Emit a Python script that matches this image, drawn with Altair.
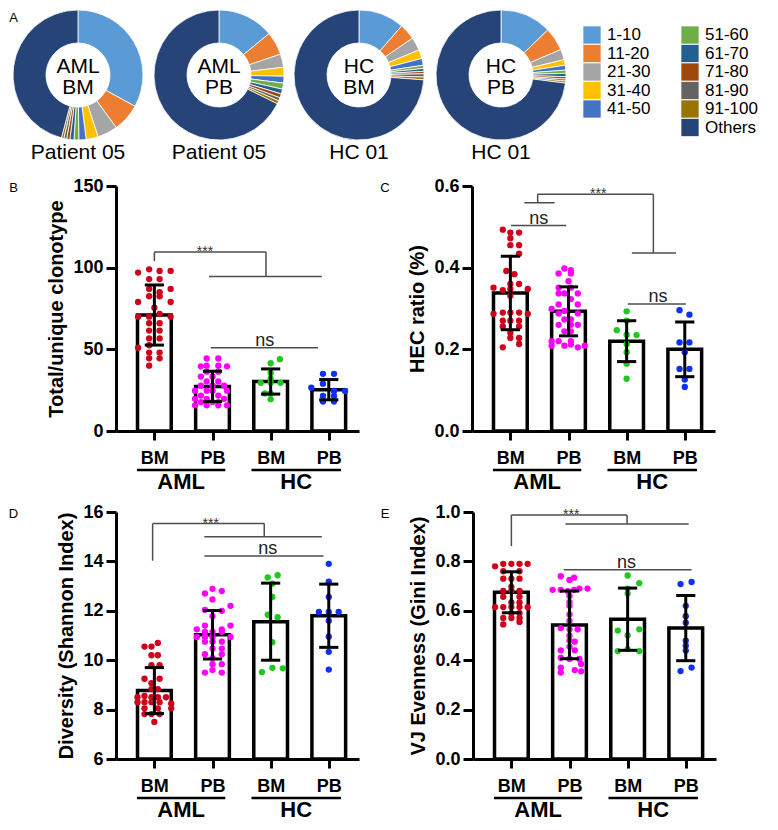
import json
import altair as alt
import pandas as pd

FONT = "Liberation Sans"

# ---------------- Panel A: share of clonotype ranks (%) ----------------
rank_bins = ["1-10", "11-20", "21-30", "31-40", "41-50",
             "51-60", "61-70", "71-80", "81-90", "91-100", "Others"]
bin_colors = ["#5B9BD5", "#ED7D31", "#A5A5A5", "#FFC000", "#4472C4",
              "#70AD47", "#255E91", "#9E480E", "#636363", "#997300", "#264478"]
share_aml_bm = [33.0, 7.0, 5.0, 3.0, 1.8, 1.2, 1.0, 0.8, 0.7, 0.6, 45.9]
share_aml_pb = [14.0, 5.8, 3.3, 2.2, 1.7, 1.5, 1.2, 1.0, 0.8, 0.8, 67.7]
share_hc_bm = [11.4, 4.0, 3.3, 2.2, 1.7, 0.8, 0.7, 0.6, 0.8, 0.7, 73.8]
share_hc_pb = [12.8, 5.8, 2.6, 1.4, 1.2, 0.8, 0.8, 0.6, 0.5, 0.5, 73.0]
donut_centers = ["AML\nBM", "AML\nPB", "HC\nBM", "HC\nPB"]
donut_captions = ["Patient 05", "Patient 05", "HC 01", "HC 01"]
legend_col = [0, 0, 0, 0, 0, 1, 1, 1, 1, 1, 1]
legend_row = [0, 1, 2, 3, 4, 0, 1, 2, 3, 4, 5]

# ---------------- common categories ----------------
cats = ["BM", "PB", "BM", "PB"]
positions = [1, 2, 3, 4]
group_names = ["AML", "HC"]
group_x1 = [0.70, 2.67]
group_x2 = [2.22, 4.21]
dot_colors = ["#d0021b", "#ff00ff", "#1ec81e", "#0f2fff"]

# ---------------- Panel B: Total/unique clonotype ----------------
b_mean = [71.0, 27.3, 30.3, 25.3]
b_sd = [18.4, 9.3, 7.7, 6.2]
b_vals = [
    [97, 99, 98, 98, 93, 93, 87, 87, 85, 82.5, 82.5, 79, 79, 75.5, 71.7, 70, 70, 70,
     66, 66, 61.5, 61.5, 56.7, 56.7, 52.5, 51, 48, 48, 44.5, 44.5, 40],
    [44.4, 44.4, 39.6, 40, 40, 39.6, 36.3, 36.3, 33.3, 33.3, 30.3, 30.3, 27.7, 27.7, 27.7,
     24.7, 24.7, 24.7, 24.7, 21.7, 21.7, 19.7, 19.7, 19.7, 17.7, 17.7, 17.7, 15.7, 15.7, 15.7, 15.7],
    [44, 41.5, 35.5, 32, 29.5, 29.5, 29.5, 23, 23, 19.5],
    [35, 35, 29, 26.5, 24.5, 24.5, 21.5, 21.5, 18, 18],
]
b_offs = [
    [-0.28, -0.09, 0.09, 0.28, -0.09, 0.09, 0.28, -0.09, 0.09, -0.09, 0.09, -0.28, 0.28, 0, 0.09,
     -0.28, -0.09, 0.28, -0.09, 0.09, -0.09, 0.09, -0.09, 0.09, -0.09, -0.28, -0.09, 0.09, -0.09, 0.09, -0.09],
    [-0.1, 0.1, -0.2, -0.1, 0.1, 0.25, -0.1, 0.1, -0.2, 0, -0.1, 0.1, -0.2, 0, 0.2,
     -0.3, -0.1, 0, 0.25, -0.2, 0.1, -0.3, -0.1, 0.2, -0.2, 0, 0.1, -0.3, -0.1, 0.1, 0.25],
    [0.16, 0, 0, 0, -0.17, 0, 0.17, -0.1, 0, 0],
    [-0.1, 0.09, -0.1, -0.3, 0.09, 0.28, -0.1, 0.09, -0.1, 0.09],
]
b_seg_x1 = [1.0, 1.0, 2.92, 1.94, 1.97]
b_seg_y1 = [104, 109.6, 109.6, 94.6, 51]
b_seg_x2 = [1.0, 2.92, 2.92, 3.88, 3.815]
b_seg_y2 = [109.6, 109.6, 94.6, 94.6, 51]
b_ann_text = ["***", "ns"]
b_ann_x = [1.87, 2.9]
b_ann_y = [109.6, 51]

# ---------------- Panel C: HEC ratio (%) ----------------
c_mean = [0.338, 0.293, 0.220, 0.200]
c_sd = [0.090, 0.060, 0.050, 0.067]
c_vals = [
    [0.493, 0.486, 0.486, 0.472, 0.455, 0.455, 0.434, 0.392, 0.384, 0.36, 0.36, 0.351, 0.345,
     0.348, 0.348, 0.331, 0.287, 0.29, 0.29, 0.29, 0.287, 0.27, 0.27, 0.27, 0.256, 0.256, 0.24,
     0.228, 0.228, 0.213, 0.205],
    [0.398, 0.394, 0.386, 0.386, 0.367, 0.351, 0.351, 0.337, 0.337, 0.337, 0.323, 0.31, 0.31,
     0.299, 0.294, 0.288, 0.288, 0.273, 0.273, 0.26, 0.26, 0.26, 0.244, 0.244, 0.22, 0.22, 0.22,
     0.209, 0.209, 0.205, 0.209, 0.212],
    [0.293, 0.27, 0.247, 0.236, 0.235, 0.213, 0.193, 0.165, 0.128],
    [0.296, 0.285, 0.217, 0.217, 0.193, 0.152, 0.152, 0.126, 0.108],
]
c_offs = [
    [-0.13, 0, 0.15, 0, 0, 0.15, 0.15, -0.07, 0.07, 0, 0.15, -0.29, -0.13, 0, 0.3, 0,
     -0.29, -0.13, 0, 0.15, 0.3, -0.13, 0, 0.15, -0.13, 0.15, 0, 0, 0.15, 0.15, -0.13],
    [-0.07, 0.04, -0.17, 0.04, 0, -0.17, 0.04, -0.17, -0.07, 0.16, 0.04, -0.17, 0.16, -0.29,
     -0.07, 0.16, -0.17, -0.07, 0.04, -0.17, 0.04, 0.16, -0.07, 0.04, -0.29, -0.17, 0.04,
     -0.29, -0.07, 0.16, 0.28, 0.04],
    [0, 0, -0.17, 0, 0.17, 0, 0, 0, 0],
    [-0.09, 0.08, -0.09, 0.08, 0, -0.09, 0.08, 0, 0],
]
c_seg_x1 = [1.24, 1.47, 1.47, 3.46, 3.09, 1.01, 3.02]
c_seg_y1 = [0.559, 0.559, 0.58, 0.58, 0.436, 0.503, 0.311]
c_seg_x2 = [1.76, 1.47, 3.46, 3.46, 3.85, 1.96, 4.02]
c_seg_y2 = [0.559, 0.58, 0.58, 0.436, 0.436, 0.503, 0.311]
c_ann_text = ["***", "ns", "ns"]
c_ann_x = [2.51, 1.49, 3.54]
c_ann_y = [0.58, 0.503, 0.311]

# ---------------- Panel D: Diversity (Shannon Index) ----------------
d_mean = [8.77, 11.03, 11.56, 11.80]
d_sd = [0.93, 0.98, 1.56, 1.28]
d_vals = [
    [10.55, 10.55, 10.7, 10.2, 10.2, 9.8, 9.8, 9.25, 9.25, 9.07, 8.83, 8.83, 8.5, 8.55, 8.5,
     8.5, 8.5, 8.3, 8.3, 8.3, 8.3, 8.25, 8.05, 8.05, 8.05, 7.82, 7.82, 7.82, 7.5],
    [12.89, 12.7, 12.8, 12.46, 12.04, 12.0, 12.2, 11.78, 11.25, 11.4, 11.25, 11.4, 11.15,
     11.15, 11.15, 10.94, 10.94, 10.94, 10.94, 10.75, 10.75, 10.75, 10.47, 10.47, 10.24,
     10.24, 10.08, 9.84, 9.84, 9.5, 9.6, 9.5],
    [13.35, 13.44, 13.1, 12.56, 11.84, 11.74, 10.73, 9.52, 9.69, 9.67],
    [13.9, 13.18, 12.56, 11.95, 11.95, 11.95, 11.6, 10.95, 10.34, 9.62],
]
d_offs = [
    [-0.17, -0.05, 0.06, -0.05, 0.06, -0.05, 0.09, -0.17, 0.09, -0.05, -0.05, 0.06, -0.29,
     -0.17, -0.05, 0.06, 0.2, -0.29, -0.17, -0.05, 0.09, 0.29, -0.17, 0.06, 0.29, -0.17,
     -0.05, 0.09, 0],
    [0, -0.13, 0.16, 0, -0.13, 0.16, 0.31, 0, -0.27, -0.13, 0.16, 0.31, -0.13, 0, 0.16,
     -0.27, -0.13, 0, 0.31, -0.13, 0, 0.16, 0, 0.16, -0.13, 0.16, 0, 0, 0.16, -0.13, 0, 0.16],
    [-0.05, 0.12, 0.03, 0.03, -0.05, 0.12, 0.03, -0.15, 0.03, 0.21],
    [0, 0, 0, -0.17, 0, 0.17, 0, 0, 0, 0],
]
d_seg_x1 = [0.97, 0.97, 2.89, 1.86, 1.86]
d_seg_y1 = [14.03, 15.53, 15.53, 15.0, 14.22]
d_seg_x2 = [0.97, 2.89, 2.89, 3.88, 3.91]
d_seg_y2 = [15.53, 15.53, 15.0, 15.0, 14.22]
d_ann_text = ["***", "ns"]
d_ann_x = [1.97, 2.95]
d_ann_y = [15.53, 14.22]

# ---------------- Panel E: VJ Evenness (Gini Index) ----------------
e_mean = [0.675, 0.543, 0.566, 0.530]
e_sd = [0.083, 0.137, 0.126, 0.132]
e_vals = [
    [0.78, 0.79, 0.79, 0.79, 0.79, 0.76, 0.76, 0.73, 0.73, 0.73, 0.697, 0.681, 0.681, 0.681,
     0.657, 0.657, 0.634, 0.634, 0.615, 0.615, 0.615, 0.615, 0.615, 0.59, 0.59, 0.571, 0.571,
     0.571, 0.545, 0.555],
    [0.74, 0.734, 0.725, 0.685, 0.685, 0.68, 0.685, 0.69, 0.69, 0.66, 0.635, 0.62, 0.585, 0.56,
     0.53, 0.525, 0.525, 0.5, 0.48, 0.475, 0.455, 0.44, 0.44, 0.41, 0.405, 0.405, 0.385, 0.37,
     0.36, 0.355, 0.35],
    [0.743, 0.712, 0.69, 0.67, 0.52, 0.525, 0.5, 0.437, 0.437, 0.445],
    [0.708, 0.717, 0.62, 0.578, 0.552, 0.479, 0.459, 0.439, 0.356, 0.37],
]
e_offs = [
    [-0.28, -0.14, 0, 0.14, 0.28, -0.14, 0.14, -0.14, 0, 0.14, 0, -0.14, 0, 0.14, -0.14, 0.14,
     0, 0.14, -0.28, -0.14, 0, 0.14, 0.28, 0, 0.14, -0.14, 0, 0.14, -0.14, 0.14],
    [-0.15, 0.08, 0, -0.29, -0.15, -0.03, 0.08, 0.17, 0.31, 0, 0, 0, 0, 0, -0.15, 0, 0.14, 0,
     0, 0.09, 0, -0.15, 0.09, -0.15, 0, 0.17, 0.2, -0.15, 0.09, 0.2, -0.15],
    [0, 0.2, 0, 0, -0.17, 0.2, 0, -0.17, 0.2, 0],
    [-0.09, 0.1, 0, 0, 0, 0, 0, 0, -0.09, 0.1],
]
e_seg_x1 = [1.0, 1.0, 2.99, 1.93, 1.9]
e_seg_y1 = [0.862, 0.988, 0.988, 0.951, 0.766]
e_seg_x2 = [1.0, 2.99, 2.99, 4.05, 4.1]
e_seg_y2 = [0.988, 0.988, 0.951, 0.951, 0.766]
e_ann_text = ["***", "ns"]
e_ann_x = [2.03, 2.98]
e_ann_y = [0.988, 0.766]

# ---------------- layout / style constants ----------------
X_DOMAIN = [0.34, 4.52]
BAR_HALF = 0.29
CAP_HALF = 0.165
PANEL_W = 243
ROW2_H = 245
ROW3_H = 247
ROW1_W = 640
ROW1_H = 130
DONUT_CX = [-38, 103, 243, 385]   # donut centres, px from panel-B plot origin
LETTER_X = -102.5                  # panel letters A/B/D, px from panel-B plot origin
LEG_COL0 = 476                     # legend first column, px
LEG_PX = 98                        # legend px per column
LEG_ROW0 = 25
LEG_ROW_PX = 18.5


def panel_a():
    layers = []
    for shares, center, caption, cx in zip(
            [share_aml_bm, share_aml_pb, share_hc_bm, share_hc_pb],
            donut_centers, donut_captions, DONUT_CX):
        df = pd.DataFrame({"bin": rank_bins, "share": shares, "color": bin_colors,
                           "k": list(range(len(rank_bins)))})
        layers.append(alt.Chart(df).mark_arc(innerRadius=32, outerRadius=65, stroke="white",
                                             strokeWidth=0.8).encode(
            theta=alt.Theta("share:Q", stack=True),
            order=alt.Order("k:Q"),
            color=alt.Color("color:N", scale=None),
            x=alt.value(cx), y=alt.value(ROW1_H / 2)))
        layers.append(alt.Chart(pd.DataFrame({"t": [center]})).mark_text(
            lineBreak="\n", fontSize=21, lineHeight=21, font=FONT, color="black",
            align="center", baseline="middle").encode(
            text="t:N", x=alt.value(cx), y=alt.value(57)))
        layers.append(alt.Chart(pd.DataFrame({"t": [caption]})).mark_text(
            fontSize=21, font=FONT, color="black", align="center", baseline="middle").encode(
            text="t:N", x=alt.value(cx), y=alt.value(143)))
    layers.append(alt.Chart(pd.DataFrame({"t": ["A"]})).mark_text(
        fontSize=13, font=FONT, color="black", align="center", baseline="middle").encode(
        text="t:N", x=alt.value(LETTER_X), y=alt.value(7.5)))

    ldf = pd.DataFrame({"bin": rank_bins, "color": bin_colors,
                        "col": legend_col, "row": legend_row})
    lx = alt.Scale(domain=[-LEG_COL0 / LEG_PX, (ROW1_W - LEG_COL0) / LEG_PX],
                   nice=False, zero=False)
    r0 = -LEG_ROW0 / LEG_ROW_PX
    ly = alt.Scale(domain=[r0, r0 + ROW1_H / LEG_ROW_PX], nice=False, zero=False,
                   reverse=True)
    layers.append(alt.Chart(ldf).mark_square(size=300, opacity=1).encode(
        x=alt.X("col:Q", scale=lx, axis=None),
        y=alt.Y("row:Q", scale=ly, axis=None),
        color=alt.Color("color:N", scale=None)))
    layers.append(alt.Chart(ldf).mark_text(align="left", baseline="middle", dx=15,
                                           fontSize=17, font=FONT, color="black").encode(
        x=alt.X("col:Q", scale=lx, axis=None),
        y=alt.Y("row:Q", scale=ly, axis=None),
        text="bin:N"))
    return alt.layer(*layers).properties(width=ROW1_W, height=ROW1_H)


def bar_panel(means, sds, vals, offs, ydom, yticks, yfmt, ytitle,
              sx1, sy1, sx2, sy2, ann_text, ann_x, ann_y, letter, letter_dx, height):
    xs = alt.Scale(domain=X_DOMAIN, nice=False, zero=False)
    ys = alt.Scale(domain=ydom, nice=False, zero=False)
    xaxis = alt.Axis(values=positions, labelExpr=json.dumps(cats) + "[datum.value - 1]",
                     title=None, grid=False, domainColor="black", domainWidth=3,
                     tickColor="black", tickWidth=3, tickSize=9, labelFont=FONT,
                     labelFontSize=18, labelFontWeight="bold", labelColor="black",
                     labelPadding=9)
    yaxis = alt.Axis(values=yticks, format=yfmt, title=ytitle, grid=False,
                     domainColor="black", domainWidth=3, tickColor="black", tickWidth=3,
                     tickSize=10, labelFont=FONT, labelFontSize=18, labelFontWeight="bold",
                     labelColor="black", labelPadding=3, titleFont=FONT, titleFontSize=20,
                     titleFontWeight="bold", titleColor="black", titlePadding=6)

    def X(f):
        return alt.X(f, type="quantitative", scale=xs, axis=xaxis)

    def Y(f):
        return alt.Y(f, type="quantitative", scale=ys, axis=yaxis)

    bdf = pd.DataFrame({"pos": positions, "mean": means, "sd": sds})
    bdf["base"] = ydom[0]
    bdf["left"] = bdf["pos"] - BAR_HALF
    bdf["right"] = bdf["pos"] + BAR_HALF
    bdf["lo"] = bdf["mean"] - bdf["sd"]
    bdf["hi"] = bdf["mean"] + bdf["sd"]

    rows = []
    for p, col, vs, os in zip(positions, dot_colors, vals, offs):
        for v, o in zip(vs, os):
            rows.append({"x": p + o, "v": v, "color": col})
    pdf = pd.DataFrame(rows)

    cdf = pd.DataFrame({"pos": positions * 2, "y": list(bdf["lo"]) + list(bdf["hi"])})
    cdf["left"] = cdf["pos"] - CAP_HALF
    cdf["right"] = cdf["pos"] + CAP_HALF

    sdf = pd.DataFrame({"x1": sx1, "y1": sy1, "x2": sx2, "y2": sy2})
    adf = pd.DataFrame({"t": ann_text, "x": ann_x, "y": ann_y})
    gdf = pd.DataFrame({"g": group_names, "x1": group_x1, "x2": group_x2})
    gdf["xc"] = (gdf["x1"] + gdf["x2"]) / 2

    bars = alt.Chart(bdf).mark_rect(fill="white", stroke="black", strokeWidth=3.5).encode(
        x=X("left"), x2="right", y=Y("base"), y2="mean")
    dots = alt.Chart(pdf).mark_circle(size=40, opacity=1).encode(
        x=X("x"), y=Y("v"), color=alt.Color("color:N", scale=None))
    err = alt.Chart(bdf).mark_rule(color="black", strokeWidth=3).encode(
        x=X("pos"), y=Y("lo"), y2="hi")
    caps = alt.Chart(cdf).mark_rule(color="black", strokeWidth=3).encode(
        x=X("left"), x2="right", y=Y("y"))
    brk = alt.Chart(sdf).mark_rule(color="#4d4d4d", strokeWidth=1.5).encode(
        x=X("x1"), x2="x2", y=Y("y1"), y2="y2")
    stars = alt.Chart(adf).transform_filter("datum.t == '***'").mark_text(
        fontSize=14, baseline="alphabetic", dy=4, color="#333333", font=FONT).encode(
        x=X("x"), y=Y("y"), text="t:N")
    ns = alt.Chart(adf).transform_filter("datum.t != '***'").mark_text(
        fontSize=18, baseline="alphabetic", dy=-2, color="#222222", font=FONT).encode(
        x=X("x"), y=Y("y"), text="t:N")
    gline = alt.Chart(gdf).mark_rule(color="black", strokeWidth=2.5).encode(
        x=X("x1"), x2="x2", y=alt.value(height + 39))
    gtext = alt.Chart(gdf).mark_text(fontSize=22, fontWeight="bold", font=FONT,
                                     baseline="middle", color="black").encode(
        x=X("xc"), y=alt.value(height + 51), text="g:N")
    let = alt.Chart(pd.DataFrame({"t": [letter]})).mark_text(
        fontSize=13, font=FONT, baseline="middle", align="center", color="black").encode(
        x=alt.value(letter_dx), y=alt.value(2), text="t:N")
    return alt.layer(bars, dots, err, caps, brk, stars, ns, gline, gtext, let).properties(
        width=PANEL_W, height=height)


row1 = panel_a()

pB = bar_panel(b_mean, b_sd, b_vals, b_offs, [0, 150], [0, 50, 100, 150], "d",
               "Total/unique clonotype", b_seg_x1, b_seg_y1, b_seg_x2, b_seg_y2,
               b_ann_text, b_ann_x, b_ann_y, "B", LETTER_X, ROW2_H)
pC = bar_panel(c_mean, c_sd, c_vals, c_offs, [0, 0.6], [0, 0.2, 0.4, 0.6], ".1f",
               "HEC ratio (%)", c_seg_x1, c_seg_y1, c_seg_x2, c_seg_y2,
               c_ann_text, c_ann_x, c_ann_y, "C", -87, ROW2_H)
pD = bar_panel(d_mean, d_sd, d_vals, d_offs, [6, 16], [6, 8, 10, 12, 14, 16], "d",
               "Diversity (Shannon Index)", d_seg_x1, d_seg_y1, d_seg_x2, d_seg_y2,
               d_ann_text, d_ann_x, d_ann_y, "D", LETTER_X, ROW3_H)
pE = bar_panel(e_mean, e_sd, e_vals, e_offs, [0, 1.0], [0, 0.2, 0.4, 0.6, 0.8, 1.0], ".1f",
               "VJ Evenness (Gini Index)", e_seg_x1, e_seg_y1, e_seg_x2, e_seg_y2,
               e_ann_text, e_ann_x, e_ann_y, "E", -88, ROW3_H)

row2 = alt.hconcat(pB, pC, spacing=113, bounds="flush")
row3 = alt.hconcat(pD, pE, spacing=114, bounds="flush")
lower = alt.vconcat(row2, row3, spacing=10)

chart = (alt.vconcat(row1, lower, spacing=14)
         .properties(padding=0, background="white")
         .configure(font=FONT)
         .configure_view(strokeWidth=0))

chart.save("out.html", embed_options={"renderer": "svg", "actions": False})
